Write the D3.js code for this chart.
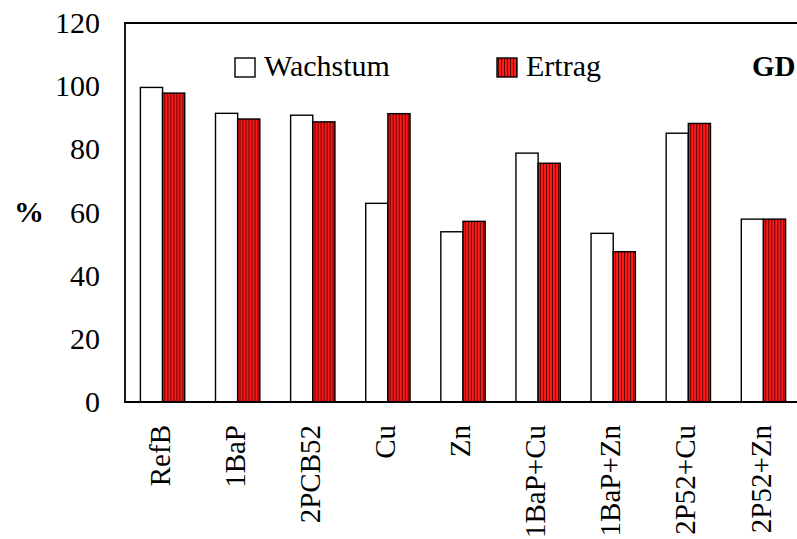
<!DOCTYPE html>
<html>
<head>
<meta charset="utf-8">
<script src="https://cdn.jsdelivr.net/npm/d3@7"></script>
<style>
body { margin: 0; background: #fff; }
svg text { font-family: 'Liberation Serif', 'Tinos', 'Times New Roman', 'DejaVu Serif', serif; }
</style>
</head>
<body>
<div class="content"></div>
<script>
var categories = ["RefB", "1BaP", "2PCB52", "Cu", "Zn", "1BaP+Cu", "1BaP+Zn", "2P52+Cu", "2P52+Zn"];
var wachstum = [99.6, 91.4, 90.8, 62.9, 53.9, 78.8, 53.4, 85.1, 57.9];
var ertrag = [97.8, 89.6, 88.7, 91.3, 57.2, 75.6, 47.6, 88.2, 57.9];
var yTicks = [0, 20, 40, 60, 80, 100, 120];
var seriesNames = ["Wachstum", "Ertrag"];

var W = 797, H = 539;
var serif = "'Liberation Serif', 'Tinos', 'Times New Roman', 'DejaVu Serif', serif";
var margin = {top: 23, left: 125, bottom: 137},
    width = 676,
    height = H - margin.top - margin.bottom;

var svg = d3.select('.content').append("svg").attr("width", W).attr("height", H);

var defs = svg.append("defs");
var pat = defs.append("pattern").attr("id", "stripes").attr("patternUnits", "userSpaceOnUse")
  .attr("width", 3).attr("height", 10);
pat.append("rect").attr("width", 3).attr("height", 10).attr("fill", "#ff1a1a");
pat.append("line").attr("x1", 0.5).attr("x2", 0.5).attr("y1", 0).attr("y2", 10)
  .attr("stroke", "#300").attr("stroke-width", 0.8);

var g = svg.append("g").attr("transform", "translate(" + margin.left + "," + margin.top + ")");

var x = d3.scaleBand().domain(categories).range([0, width]).paddingInner(0.41).paddingOuter(0.205);
var xs = d3.scaleBand().domain(seriesNames).range([0, x.bandwidth()]);
var y = d3.scaleLinear().domain([0, 120]).range([height, 0]);

var data = categories.map(function(c, i) { return {cat: c, vals: [wachstum[i], ertrag[i]]}; });

var grp = g.selectAll(".grp").data(data).enter().append("g")
  .attr("transform", function(d) { return "translate(" + x(d.cat) + ",0)"; });

grp.selectAll("rect").data(function(d) { return d.vals.map(function(v, j) { return {s: seriesNames[j], v: v}; }); })
  .enter().append("rect")
  .attr("x", function(d) { return xs(d.s); })
  .attr("y", function(d) { return y(d.v); })
  .attr("width", xs.bandwidth())
  .attr("height", function(d) { return height - y(d.v); })
  .attr("fill", function(d) { return d.s == "Ertrag" ? "url(#stripes)" : "#fff"; })
  .attr("stroke", "#000").attr("stroke-width", 1.4);

// frame
g.append("path").attr("d", "M" + width + ",0H0V" + height + "H" + width)
  .attr("fill", "none").attr("stroke", "#000").attr("stroke-width", 1.8);

// y axis labels
var yAxis = g.append("g").call(d3.axisLeft(y).tickValues(yTicks).tickSize(0).tickPadding(25));
yAxis.attr("font-family", null);
yAxis.select(".domain").remove();
yAxis.selectAll("text").style("font-family", serif).style("font-size", "30px").attr("fill", "#000");

// x axis labels
var xAxis = g.append("g").attr("transform", "translate(0," + height + ")")
  .call(d3.axisBottom(x).tickSize(0).tickPadding(0));
xAxis.attr("font-family", null);
xAxis.select(".domain").remove();
xAxis.selectAll("text")
  .style("font-family", serif).style("font-size", "29px").attr("fill", "#000")
  .attr("text-anchor", "end").attr("transform", "rotate(-90)")
  .attr("x", -23).attr("y", -3).attr("dy", "0.35em");

svg.append("text").attr("x", 14).attr("y", 222).style("font-family", serif)
  .style("font-size", "30px").style("font-weight", "bold").text("%");

// legend
var leg = [{name: "Wachstum", x: 235}, {name: "Ertrag", x: 497}];
leg.forEach(function(l) {
  svg.append("rect").attr("x", l.x).attr("y", 58).attr("width", 20).attr("height", 19)
    .attr("fill", l.name == "Ertrag" ? "url(#stripes)" : "#fff").attr("stroke", "#000").attr("stroke-width", 1.4);
  svg.append("text").attr("x", l.x + 29).attr("y", 76).style("font-family", serif)
    .style("font-size", "30px").text(l.name);
});
svg.append("text").attr("x", 752).attr("y", 76).style("font-family", serif)
  .style("font-size", "29px").style("font-weight", "bold").text("GD");
</script>
</body>
</html>
